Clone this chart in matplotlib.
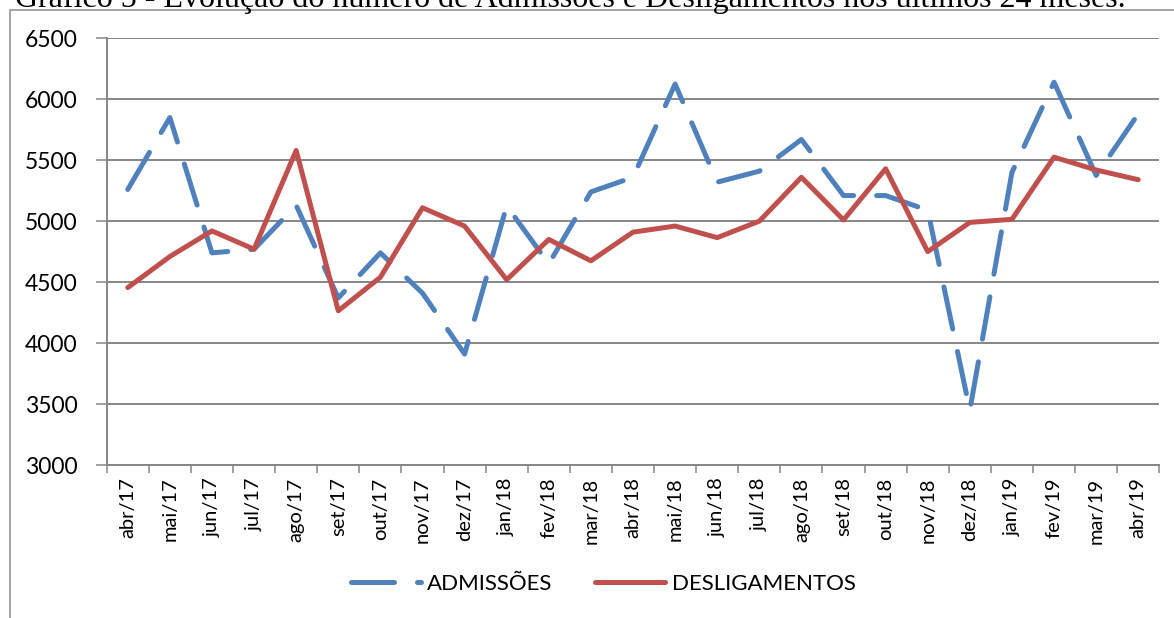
import matplotlib
matplotlib.use("Agg")
import matplotlib.pyplot as plt
from matplotlib.patches import Rectangle

meses = ["abr/17", "mai/17", "jun/17", "jul/17", "ago/17", "set/17", "out/17",
         "nov/17", "dez/17", "jan/18", "fev/18", "mar/18", "abr/18", "mai/18",
         "jun/18", "jul/18", "ago/18", "set/18", "out/18", "nov/18", "dez/18",
         "jan/19", "fev/19", "mar/19", "abr/19"]
admissoes = [5260, 5850, 4740, 4770, 5130, 4370, 4740, 4410, 3910, 5125, 4650,
             5240, 5360, 6125, 5320, 5410, 5670, 5210, 5210, 5090, 3450, 5400,
             6140, 5375, 5880]
desligamentos = [4455, 4710, 4920, 4770, 5580, 4265, 4540, 5110, 4960, 4520, 4850,
                 4675, 4910, 4960, 4865, 5000, 5360, 5010, 5430, 4750, 4990, 5015,
                 5525, 5420, 5340]
yticks = [3000, 3500, 4000, 4500, 5000, 5500, 6000, 6500]
titulo = "Gráfico 5 - Evolução do número de Admissões e Desligamentos nos últimos 24 meses."

W, H = 1174, 618
fig = plt.figure(figsize=(W / 100, H / 100), dpi=100)
ax = fig.add_axes([106.7 / W, 1 - 465 / H, (1159.3 - 106.7) / W, (465 - 38.3) / H])

grid_c = "#868686"
x = list(range(len(meses)))
ax.plot(x, admissoes, color="#4F81BD", lw=3.6, dashes=(8.6, 4.6),
        dash_capstyle="round", solid_joinstyle="round", label="ADMISSÕES", zorder=3)
ax.plot(x, desligamentos, color="#C0504D", lw=3.6, solid_capstyle="round",
        solid_joinstyle="round", label="DESLIGAMENTOS", zorder=4)

ax.set_xlim(-0.5, len(meses) - 0.5)
ax.set_ylim(3000, 6500)
ax.set_yticks(yticks)
ax.set_yticklabels([str(v) for v in yticks], fontfamily="Lato", fontsize=16.5)
ax.set_xticks([i - 0.5 for i in range(len(meses) + 1)])
ax.set_xticklabels([])
ax.set_xticks(x, minor=True)
ax.set_xticklabels(meses, minor=True, rotation=90, fontfamily="Lato", fontsize=14.5,
                   va="top", ha="center")
ax.tick_params(axis="x", which="major", length=6, width=1.1, color=grid_c, direction="out")
ax.tick_params(axis="x", which="minor", length=0, pad=9)
ax.tick_params(axis="y", length=8, width=1.1, color=grid_c, pad=13)
ax.yaxis.grid(True, color=grid_c, lw=1.4)
ax.set_axisbelow(True)
for s in ["top", "right"]:
    ax.spines[s].set_visible(False)
for s in ["left", "bottom"]:
    ax.spines[s].set_color(grid_c)
    ax.spines[s].set_linewidth(1.4)

leg = fig.legend(loc="center", bbox_to_anchor=(603 / W, 1 - 584 / H), ncol=2,
                 frameon=False, prop={"family": "Lato", "size": 16},
                 handlelength=3.15, handletextpad=0.3, columnspacing=1.9)

# moldura do gráfico (cortada pela imagem)
fig.patches.append(Rectangle((10 / W, -0.1), 1.2, 1 - 9.7 / H + 0.1,
                             transform=fig.transFigure, fill=False,
                             edgecolor="#8C8C8C", lw=1.1))
fig.text(15 / W, 1 - 7 / H, titulo, fontfamily="Liberation Serif", fontsize=23,
         va="baseline", ha="left")

fig.savefig("out.png", dpi=100)
